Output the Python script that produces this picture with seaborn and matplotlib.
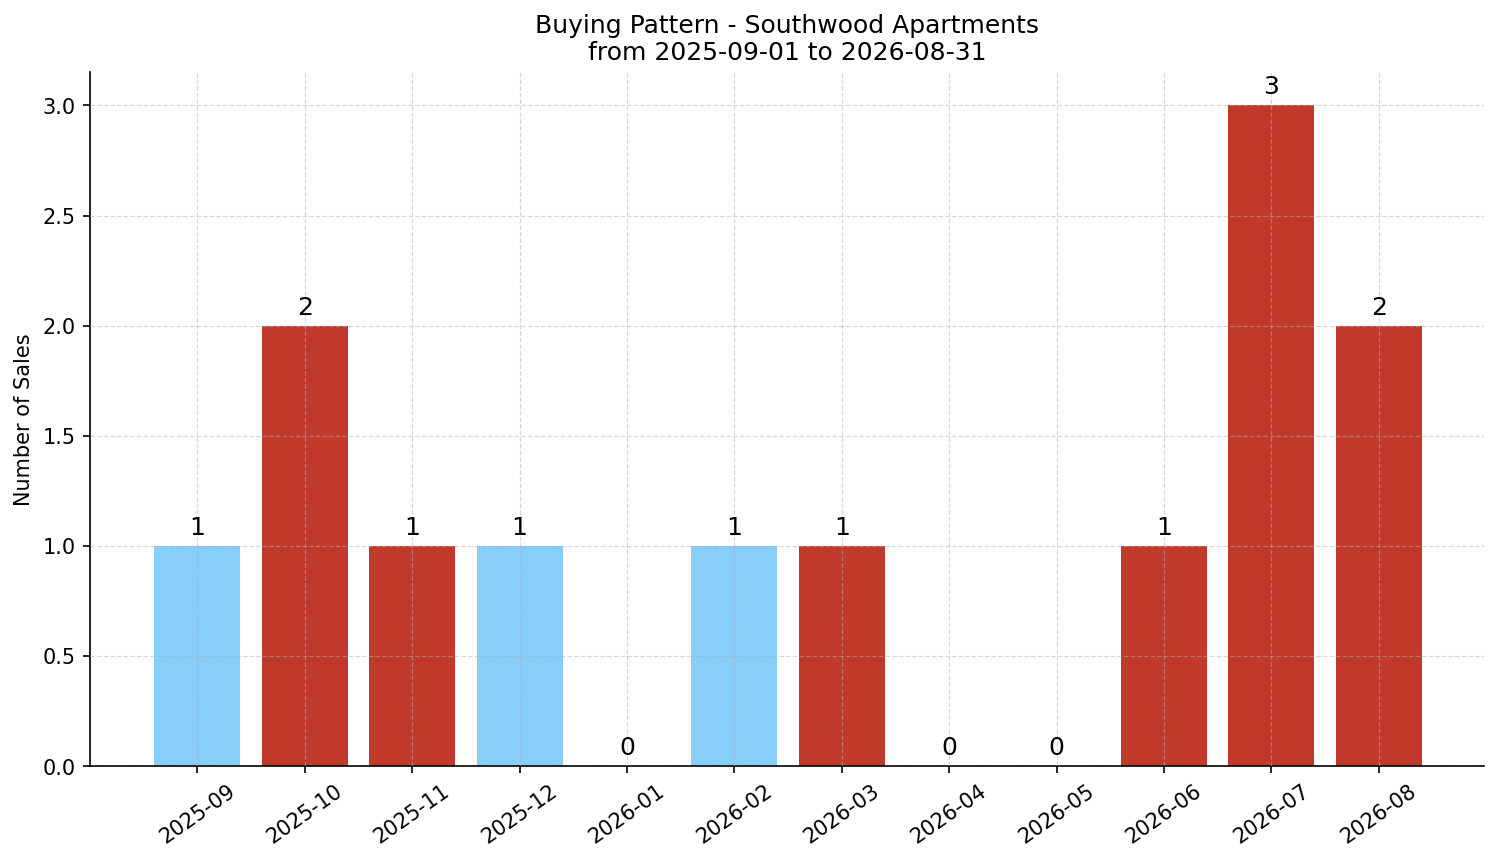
import numpy as np
import pandas as pd
import matplotlib
matplotlib.use("Agg")
import matplotlib.pyplot as plt
import seaborn as sns

# Data
months = ["2025-09", "2025-10", "2025-11", "2025-12", "2026-01", "2026-02",
          "2026-03", "2026-04", "2026-05", "2026-06", "2026-07", "2026-08"]
sales = [1, 2, 1, 1, 0, 1, 1, 0, 0, 1, 3, 2]
groups = ["low", "high", "high", "low", "low", "low",
          "high", "high", "high", "high", "high", "high"]

BLUE = "#87CEFA"
RED = "#C0392B"


def main():
    df = pd.DataFrame({"month": months, "sales": sales, "group": groups})

    plt.rcParams["font.family"] = ["DejaVu Sans"]

    fig, ax = plt.subplots(figsize=(10.0, 5.75), dpi=150)
    sns.barplot(data=df, x="month", y="sales", hue="group",
                palette={"low": BLUE, "high": RED}, dodge=False,
                width=0.8, saturation=1, legend=False, ax=ax)

    for i, v in enumerate(sales):
        ax.text(i, v + 0.03, str(v), ha="center", va="bottom", fontsize=12)

    ax.set_xlim(-1, 11.98)
    ax.set_ylim(0, 3.15)
    ax.grid(True, linestyle="--", color="#b0b0b0", alpha=0.5, linewidth=0.6)
    ax.set_axisbelow(False)
    ax.set_title("Buying Pattern - Southwood Apartments\nfrom 2025-09-01 to 2026-08-31",
                 fontsize=12)
    ax.set_xlabel("")
    ax.set_ylabel("Number of Sales", fontsize=10)
    ax.tick_params(axis="both", labelsize=10)
    plt.setp(ax.get_xticklabels(), rotation=35)
    sns.despine(ax=ax)

    fig.subplots_adjust(left=0.06, right=0.9893, top=0.9154, bottom=0.1112)
    fig.savefig("out.png", dpi=150)


if __name__ == "__main__":
    main()
